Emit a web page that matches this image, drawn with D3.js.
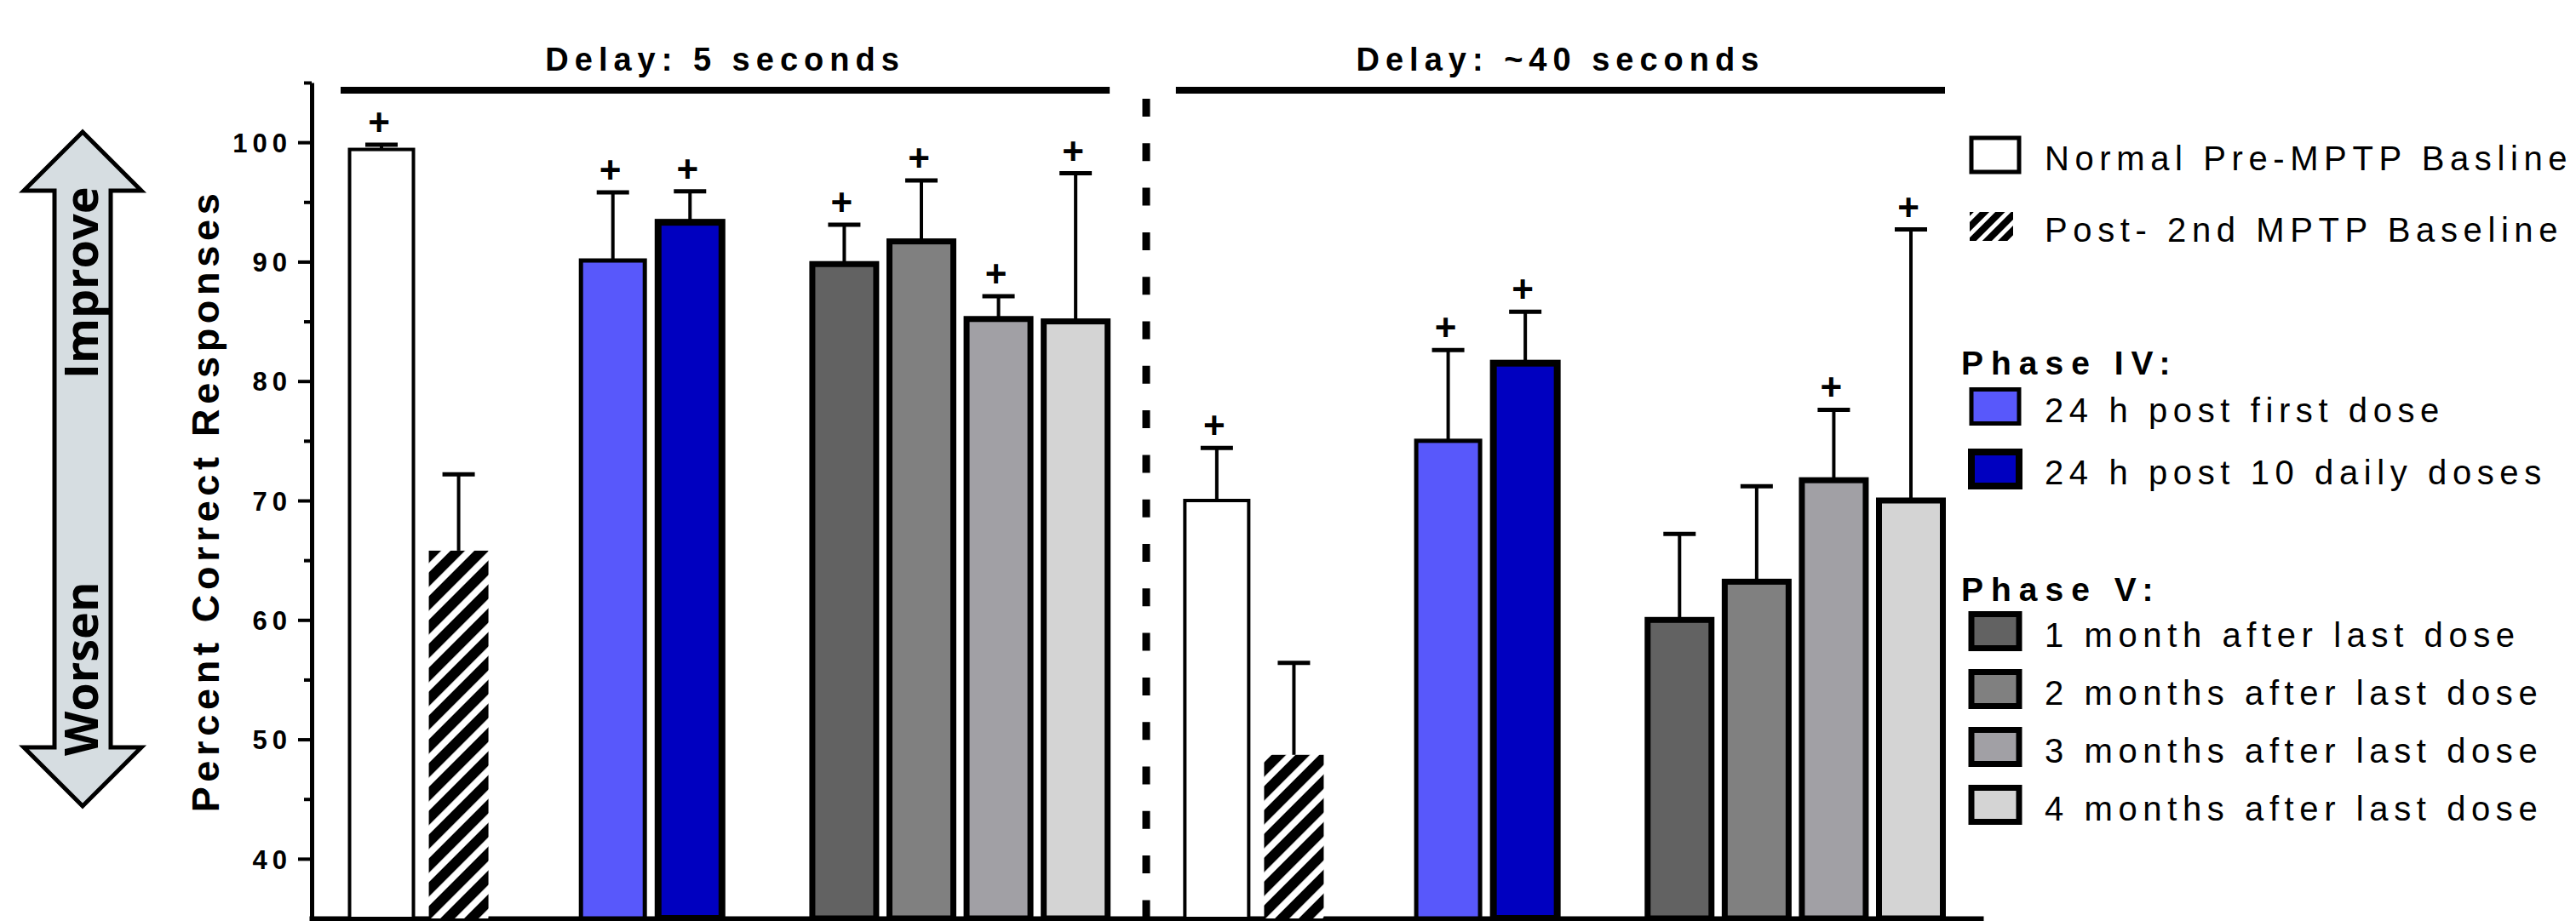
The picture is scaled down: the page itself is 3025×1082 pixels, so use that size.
<!DOCTYPE html>
<html>
<head>
<meta charset="utf-8">
<script src="https://cdn.jsdelivr.net/npm/d3@7"></script>
<style>
  html, body { margin: 0; padding: 0; background: #fff; }
  svg text { font-family: "Liberation Sans", Arial, sans-serif; fill: #000; }
</style>
</head>
<body>
<svg id="chart" width="3025" height="1082"></svg>
<script>
// values
const delays = ["Delay: 5 seconds", "Delay: ~40 seconds"];
const conditions = [
  "Normal Pre-MPTP Basline",
  "Post- 2nd MPTP Baseline",
  "24 h post first dose",
  "24 h post 10 daily doses",
  "1 month after last dose",
  "2 months after last dose",
  "3 months after last dose",
  "4 months after last dose"
];
const phaseOf = ["", "", "Phase IV:", "Phase IV:", "Phase V:", "Phase V:", "Phase V:", "Phase V:"];
const mean5 = [99.4, 65.8, 90.1, 93.3, 89.8, 91.7, 85.2, 85.0];
const sem5 = [0.4, 6.4, 5.7, 2.6, 3.3, 5.1, 1.9, 12.4];
const plus5 = [true, false, true, true, true, true, true, true];
const mean40 = [70.0, 48.7, 75.0, 81.5, 60.0, 63.2, 71.7, 70.0];
const sem40 = [4.4, 7.7, 7.6, 4.3, 7.2, 8.0, 5.9, 22.7];
const plus40 = [true, false, true, true, false, false, true, true];
const yTicks = [40, 50, 60, 70, 80, 90, 100];
const yMinorTicks = [45, 55, 65, 75, 85, 95, 105];

// styles
const fills = ["#ffffff", "url(#hatch)", "#5858fb", "#0000c0", "#626262", "#808080", "#a1a0a5", "#d4d4d4"];
const strokeW = [4, 0, 5, 8, 7, 7, 7, 7];

const series = delays.map((delay, d) => ({
  delay: delay,
  mean: d === 0 ? mean5 : mean40,
  sem: d === 0 ? sem5 : sem40,
  plus: d === 0 ? plus5 : plus40
}));

// slot of each condition inside a delay group: one empty slot between phases
const slotOf = conditions.map((c, i) => i + new Set(phaseOf.slice(0, i + 1)).size - 1);
const groupOffset = 10.83;

const svg = d3.select("#chart");
const y = d3.scaleLinear().domain([35, 105]).range([1079, 97]);
const x = d3.scaleLinear().domain([0, 19.83]).range([448, 2244]);
const axisX = 366;

const defs = svg.append("defs");
function hatch(id, period, black) {
  const p = defs.append("pattern")
    .attr("id", id)
    .attr("patternUnits", "userSpaceOnUse")
    .attr("width", period)
    .attr("height", period)
    .attr("patternTransform", "rotate(45)");
  p.append("rect").attr("width", period).attr("height", period).attr("fill", "#fff");
  p.append("rect").attr("width", black).attr("height", period).attr("fill", "#000");
}
hatch("hatch", 19.8, 12);
hatch("hatchSmall", 13, 8);

// improve / worsen arrow
const arrow = d3.path();
arrow.moveTo(97, 155);
arrow.lineTo(166, 224);
arrow.lineTo(130, 224);
arrow.lineTo(130, 878);
arrow.lineTo(166, 878);
arrow.lineTo(97, 947);
arrow.lineTo(28, 878);
arrow.lineTo(64, 878);
arrow.lineTo(64, 224);
arrow.lineTo(28, 224);
arrow.closePath();
svg.append("path")
  .attr("d", arrow.toString())
  .attr("fill", "#d6dde1")
  .attr("stroke", "#000")
  .attr("stroke-width", 5)
  .attr("stroke-linejoin", "miter");

[["Improve", 445], ["Worsen", 888]].forEach(([t, yy]) => {
  svg.append("text")
    .attr("transform", `translate(115,${yy}) rotate(-90)`)
    .style("font-family", '"Open Sans", "Liberation Sans", sans-serif')
    .style("font-weight", 700)
    .style("font-size", "54px")
    .text(t);
});

// y axis
const yAxis = svg.append("g")
  .attr("transform", `translate(${axisX},0)`)
  .call(d3.axisLeft(y).tickValues(yTicks).tickSize(16).tickSizeOuter(0).tickPadding(7));
yAxis.select(".domain").attr("stroke-width", 5);
yAxis.selectAll(".tick line").attr("stroke-width", 4);
yAxis.selectAll(".tick text")
  .attr("dy", "0.36em")
  .style("font-family", '"Liberation Sans", Arial, sans-serif')
  .style("font-weight", 700)
  .style("font-size", "31px")
  .style("letter-spacing", "6px");

const yMinor = svg.append("g")
  .attr("transform", `translate(${axisX},0)`)
  .call(d3.axisLeft(y).tickValues(yMinorTicks).tickSize(9).tickFormat(""));
yMinor.select(".domain").remove();
yMinor.selectAll(".tick line").attr("stroke-width", 4);

svg.append("text")
  .attr("transform", `translate(257,${(y(35) + y(105)) / 2}) rotate(-90)`)
  .attr("text-anchor", "middle")
  .style("font-weight", 700)
  .style("font-size", "45px")
  .style("letter-spacing", "5.7px")
  .text("Percent Correct Responses");

// x axis line
const xAxis = svg.append("g")
  .attr("transform", `translate(0,${y(35)})`)
  .call(d3.axisBottom(d3.scaleLinear().range([363, 2329])).ticks(0).tickSize(0));
xAxis.select(".domain").attr("stroke-width", 6);
xAxis.selectAll("text").remove();

// divider between the two delays
const divX = (x(slotOf[slotOf.length - 1]) + x(groupOffset)) / 2;
svg.append("line")
  .attr("x1", divX).attr("x2", divX)
  .attr("y1", 116).attr("y2", y(35))
  .attr("stroke", "#000")
  .attr("stroke-width", 9)
  .attr("stroke-dasharray", "21 31.3");

// bars
const barW = 75;
const hatchW = 70;
series.forEach((s, d) => {
  const off = d * groupOffset;
  const g = svg.append("g");
  const first = x(slotOf[0] + off);
  const last = x(slotOf[slotOf.length - 1] + off);

  // delay title and bracket line
  g.append("line")
    .attr("x1", first - 48).attr("x2", last + 40)
    .attr("y1", 106).attr("y2", 106)
    .attr("stroke", "#000").attr("stroke-width", 8);
  g.append("text")
    .attr("x", (first - 48 + last + 40) / 2)
    .attr("y", 83)
    .attr("text-anchor", "middle")
    .style("font-weight", 700)
    .style("font-size", "38px")
    .style("letter-spacing", "7px")
    .text(s.delay);

  g.selectAll("rect.bar")
    .data(conditions)
    .enter()
    .append("rect")
    .attr("class", "bar")
    .attr("x", (c, i) => x(slotOf[i] + off) - (strokeW[i] ? barW : hatchW) / 2)
    .attr("width", (c, i) => (strokeW[i] ? barW : hatchW))
    .attr("y", (c, i) => y(s.mean[i]))
    .attr("height", (c, i) => y(35) - y(s.mean[i]))
    .attr("fill", (c, i) => fills[i])
    .attr("stroke", (c, i) => (strokeW[i] ? "#000" : "none"))
    .attr("stroke-width", (c, i) => strokeW[i]);

  // error bars (upper only)
  conditions.forEach((c, i) => {
    const cx = x(slotOf[i] + off);
    const top = y(s.mean[i] + s.sem[i]);
    g.append("line")
      .attr("x1", cx).attr("x2", cx)
      .attr("y1", y(s.mean[i])).attr("y2", top)
      .attr("stroke", "#000").attr("stroke-width", 4);
    g.append("line")
      .attr("x1", cx - 19).attr("x2", cx + 19)
      .attr("y1", top).attr("y2", top)
      .attr("stroke", "#000").attr("stroke-width", 5);
    if (s.plus[i]) {
      g.append("text")
        .attr("x", cx - 3)
        .attr("y", top - 26 + 15)
        .attr("text-anchor", "middle")
        .style("font-weight", 700)
        .style("font-size", "44px")
        .text("+");
    }
  });
});

// legend
const legend = svg.append("g");
const legendCenters = [182, 266, 477.5, 551, 741.5, 809.5, 877.5, 945.5];
const headerBaselines = { "Phase IV:": 440, "Phase V:": 706 };
Object.keys(headerBaselines).forEach(h => {
  legend.append("text")
    .attr("x", 2303)
    .attr("y", headerBaselines[h])
    .style("font-weight", 700)
    .style("font-size", "39px")
    .style("letter-spacing", "9px")
    .text(h);
});
conditions.forEach((c, i) => {
  const cy = legendCenters[i];
  if (strokeW[i]) {
    legend.append("rect")
      .attr("x", 2343 - 28).attr("y", cy - 20)
      .attr("width", 56).attr("height", 40)
      .attr("fill", fills[i])
      .attr("stroke", "#000")
      .attr("stroke-width", Math.max(5, strokeW[i]));
  } else {
    legend.append("rect")
      .attr("x", 2313).attr("y", cy - 17)
      .attr("width", 51).attr("height", 34)
      .attr("fill", "url(#hatchSmall)");
  }
  legend.append("text")
    .attr("x", 2401)
    .attr("y", cy + 18)
    .style("font-size", "40px")
    .style("letter-spacing", "6.6px")
    .text(c);
});
</script>
</body>
</html>
